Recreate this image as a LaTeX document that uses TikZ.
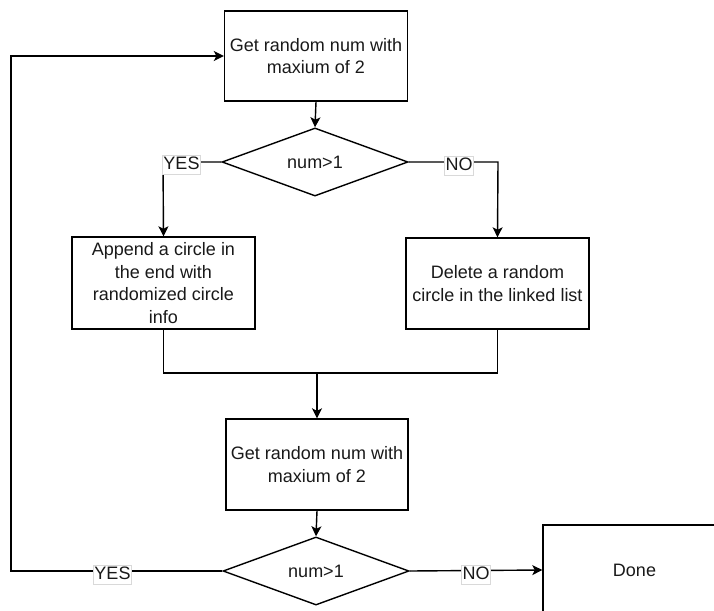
\documentclass[tikz,border=0pt]{standalone}
\usepackage{fontspec}
\setmainfont{Liberation Sans}
\usetikzlibrary{shapes.geometric,arrows.meta}

\tikzset{
  flowtext/.style={font=\fontsize{18}{22.5}\selectfont, align=center, text=black!90},
  procbox/.style={draw, line width=1.4pt, rectangle, flowtext, inner sep=0pt},
  decision/.style={draw, line width=1.4pt, diamond, flowtext, inner sep=0pt,
    minimum width=186pt, minimum height=60pt},
  link/.style={line width=1.4pt},
  arrowlink/.style={link, -{Stealth[length=10pt,width=10pt,inset=2.5pt]}},
  branchlabel/.style={fill=white, draw=black!15, line width=0.6pt,
    font=\fontsize{18}{20}\selectfont, text=black!90,
    inner sep=1pt, text height=13pt, text depth=3.5pt}
}

\begin{document}
\begin{tikzpicture}[x=1pt,y=-1pt]
  \useasboundingbox (0,0) rectangle (714,610);

  % process boxes and decisions
  \node[procbox, minimum width=183pt, minimum height=90pt] (getA) at (316,56)
    {Get random num with\\maxium of 2};
  \node[decision] (testA) at (315,162) {num>1};
  \node[procbox, minimum width=183pt, minimum height=92pt] (append) at (163.5,283)
    {Append a circle in\\the end with\\randomized circle\\info};
  \node[procbox, minimum width=183pt, minimum height=91pt] (delete) at (497.5,283.5)
    {Delete a random\\circle in the linked list};
  \node[procbox, minimum width=182pt, minimum height=91pt] (getB) at (317,464.5)
    {Get random num with\\maxium of 2};
  \node[decision] (testB) at (316,571) {num>1};
  \node[procbox, minimum width=183pt, minimum height=90pt] (done) at (634.5,570)
    {Done};

  % routing points
  \coordinate (yesA) at (163,162);
  \coordinate (noA) at (498,162);
  \coordinate (merge) at (317,373);
  \coordinate (loop) at (11,571);

  % first decision
  \draw[arrowlink] (getA.south) -- (testA.north);
  \draw[arrowlink] (testA.west) -- (yesA) -- (append.north);
  \draw[arrowlink] (testA.east) -- (noA) -- (delete.north);
  \node[branchlabel] (lblYesA) at (181.5,165) {YES};
  \node[branchlabel] (lblNoA) at (459,166) {NO};

  % merge of both branches
  \draw[link] (append.south) |- (merge) -| (delete.south);
  \draw[arrowlink] (merge) -- (getB.north);

  % second decision
  \draw[arrowlink] (getB.south) -- (testB.north);
  \draw[arrowlink] (testB.east) -- (done.west);
  \draw[arrowlink] (testB.west) -- (loop) |- (getA.west);
  \node[branchlabel] (lblYesB) at (112.5,575) {YES};
  \node[branchlabel] (lblNoB) at (476,575) {NO};
\end{tikzpicture}
\end{document}
